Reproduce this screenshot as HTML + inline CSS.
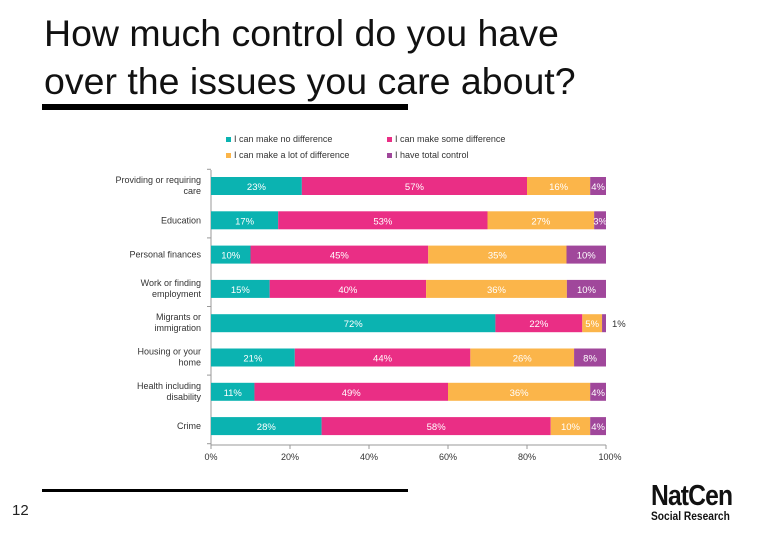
<!DOCTYPE html>
<html><head><meta charset="utf-8"><style>
body{margin:0;width:780px;height:540px;background:#fff;overflow:hidden;font-family:"Liberation Sans",sans-serif;position:relative}
.t{position:absolute;left:44px;font-size:37.5px;color:#111;line-height:48px}
</style></head><body>
<div class="t" style="top:9px">How much control do you have</div>
<div class="t" style="top:57px">over the issues you care about?</div>
<div style="position:absolute;left:42px;top:104px;width:366px;height:6px;background:#000"></div>
<div style="position:absolute;left:42px;top:489px;width:366px;height:3px;background:#000"></div>
<div style="position:absolute;left:12px;top:502px;font-size:15px;color:#222">12</div>
<div style="position:absolute;left:651px;top:480px;font-size:29px;font-weight:bold;color:#111;letter-spacing:-1px;transform:scaleX(0.85);transform-origin:left">NatCen</div>
<div style="position:absolute;left:651px;top:509px;font-size:12px;font-weight:bold;color:#111;transform:scaleX(0.85);transform-origin:left">Social Research</div>
<svg id="c" width="780" height="540" style="position:absolute;left:0;top:0"></svg>
<script>
const categories=[["Providing or requiring","care"],["Education"],["Personal finances"],["Work or finding","employment"],["Migrants or","immigration"],["Housing or your","home"],["Health including","disability"],["Crime"]];
const seriesNames=["I can make no difference","I can make some difference","I can make a lot of difference","I have total control"];
const noDiff=[23,17,10,15,72,21,11,28];
const someDiff=[57,53,45,40,22,44,49,58];
const lotDiff=[16,27,35,36,5,26,36,10];
const totalCtl=[4,3,10,10,1,8,4,4];
const ticks=["0%","20%","40%","60%","80%","100%"];
const colors=["#0bb3b1","#ea2e85","#fbb54a","#a0479b"];
const svg=document.getElementById('c');const NS="http://www.w3.org/2000/svg";
function el(t,a,txt){const e=document.createElementNS(NS,t);for(const k in a)e.setAttribute(k,a[k]);if(txt!=null)e.textContent=txt;svg.appendChild(e);return e;}
const x0=211,x1=606,yTop=170,rowH=34.3,barH=18;
const xs=v=>x0+(x1-x0)*v/100;
const yc=i=>yTop+16+i*rowH;
const lp=[[226,141],[387,141],[226,157],[387,157]];
seriesNames.forEach((n,i)=>{
 const r=el('rect',{x:lp[i][0],y:lp[i][1]-4,width:5,height:5,fill:colors[i]});
 
 const t=el('text',{x:lp[i][0]+8,y:lp[i][1]+1,'font-size':9,fill:'#333'},n);
 
});
const ya=el('line',{x1:x0,y1:yTop,x2:x0,y2:445,stroke:'#999','stroke-width':1});

const xa=el('line',{x1:x0,y1:445,x2:x1,y2:445,stroke:'#999','stroke-width':1});

ticks.forEach((t,i)=>{
 const v=i*20;
 el('line',{x1:xs(v),y1:445,x2:xs(v),y2:449,stroke:'#999'});
 const tx=el('text',{x:xs(v)+(i==5?4:0),y:460,'font-size':9,fill:'#333','text-anchor':'middle'},t);
 
});
for(let i=0;i<=categories.length;i++){if(i%2==0)el('line',{x1:x0-4,y1:yTop+i*rowH-0.7,x2:x0,y2:yTop+i*rowH-0.7,stroke:'#999'});}
const series=[noDiff,someDiff,lotDiff,totalCtl];
categories.forEach((c,i)=>{
 const y=yc(i);
 const lt=el('text',{x:201,y:c.length>1?y-3:y+3,'font-size':9,fill:'#333','text-anchor':'end'});
 
 c.forEach((s,j)=>{const ts=document.createElementNS(NS,'tspan');ts.setAttribute('x',201);if(j)ts.setAttribute('dy',11);ts.textContent=s;lt.appendChild(ts);});
 const tot=series.reduce((a,s)=>a+s[i],0);
 let acc=0;
 series.forEach((s,k)=>{
  const v=s[i]*100/tot;
  const r=el('rect',{x:xs(acc),y:y-barH/2,width:xs(acc+v)-xs(acc),height:barH,fill:colors[k]});
  
  const small=s[i]<2;
  const lb=el('text',{x:small?xs(100)+6:xs(acc+v/2),y:y+4,'font-size':9.5,fill:small?'#333':'#fff','text-anchor':small?'start':'middle'},s[i]+'%');
  
  acc+=v;
 });
});
</script>
</body></html>
